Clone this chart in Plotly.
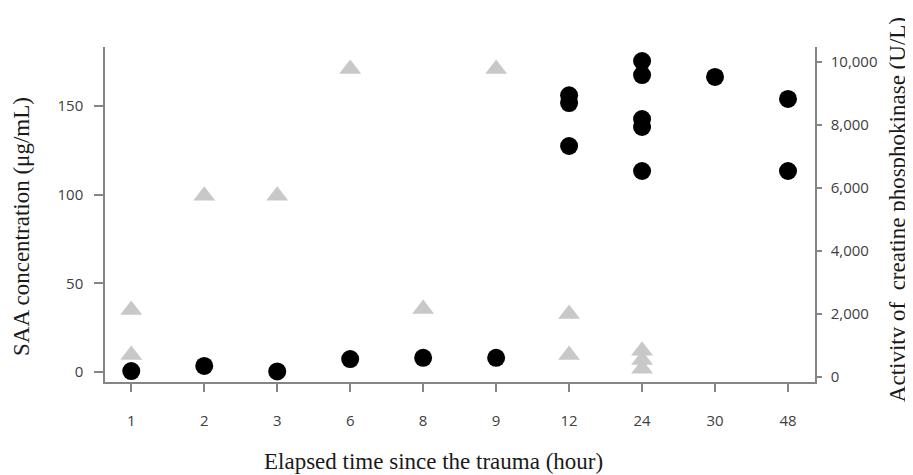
import plotly.graph_objects as go

hours = ["1", "2", "3", "6", "8", "9", "12", "24", "30", "48"]

# SAA concentration (black circles, left axis, ug/mL)
saa_time = ["1", "2", "3", "6", "8", "9", "12", "12", "12",
            "24", "24", "24", "24", "24", "30", "48", "48"]
saa_value = [0.5, 3.4, 0.3, 7.3, 8.0, 8.0, 156.0, 151.6, 127.4,
             175.3, 167.4, 142.6, 138.1, 113.3, 166.3, 153.9, 113.3]

# Creatine phosphokinase activity (grey triangles, right axis, U/L)
cpk_time = ["1", "1", "2", "3", "6", "8", "9", "12", "12", "24", "24", "24"]
cpk_value = [2130, 700, 5750, 5750, 9780, 2160, 9780, 2000, 700, 830, 540, 260]

left_ticks = [0, 50, 100, 150]
right_ticks = [0, 2000, 4000, 6000, 8000, 10000]

axis_col = "#858585"
tick_font = dict(family="Open Sans", size=15, color="#404040")
title_font = dict(family="Liberation Serif", size=23, color="#1a1a1a")

fig = go.Figure()
fig.add_trace(go.Scatter(
    x=saa_time, y=saa_value, mode="markers", yaxis="y",
    marker=dict(symbol="circle", size=18, color="black",
                line=dict(width=0)),
    showlegend=False))
fig.add_trace(go.Scatter(
    x=cpk_time, y=cpk_value, mode="markers", yaxis="y2",
    marker=dict(symbol="triangle-up", size=19, color="#c8c8c8",
                line=dict(width=0)),
    showlegend=False))

fig.update_layout(
    width=905, height=467,
    margin=dict(l=97, r=98, t=39, b=93),
    plot_bgcolor="white", paper_bgcolor="white",
    xaxis=dict(type="category", categoryorder="array", categoryarray=hours,
               range=[-0.36, 9.37], showgrid=False, zeroline=False,
               showline=True, linecolor=axis_col, linewidth=1.5,
               ticks="outside", ticklen=8, tickcolor=axis_col, tickwidth=1.5,
               tickfont=tick_font, ticklabelstandoff=16),
    yaxis=dict(range=[-5.64, 183.2], tickvals=left_ticks,
               showgrid=False, zeroline=False,
               showline=True, linecolor=axis_col, linewidth=1.5,
               ticks="outside", ticklen=9, tickcolor=axis_col, tickwidth=1.5,
               tickfont=tick_font, ticklabelstandoff=8),
    yaxis2=dict(overlaying="y", side="right", anchor="x",
                range=[-159, 10476], tickvals=right_ticks, tickformat=",",
                showgrid=False, zeroline=False,
                showline=True, linecolor=axis_col, linewidth=1.5,
                ticks="outside", ticklen=5, tickcolor=axis_col, tickwidth=1.5,
                tickfont=tick_font, ticklabelstandoff=6),
    annotations=[
        dict(text="SAA concentration (μg/mL)", xref="paper", yref="paper",
             x=-0.1169, y=0.4627, textangle=-90, showarrow=False,
             font=title_font, xanchor="center", yanchor="middle"),
        dict(text="Activity of  creatine phosphokinase (U/L)", xref="paper",
             yref="paper", x=1.1155, y=0.513, textangle=-90, showarrow=False,
             font=title_font, xanchor="center", yanchor="middle"),
        dict(text="Elapsed time since the trauma (hour)", xref="paper",
             yref="paper", x=0.4627, y=-0.2388, showarrow=False,
             font=title_font, xanchor="center", yanchor="middle"),
    ],
)

fig.write_html("out.html")
